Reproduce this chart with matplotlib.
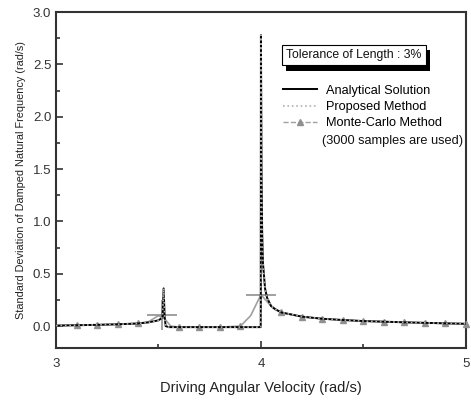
import matplotlib
matplotlib.use("Agg")
import matplotlib.pyplot as plt
import matplotlib.patheffects as pe
from matplotlib.lines import Line2D

plt.rcParams['font.family'] = ['Liberation Sans', 'DejaVu Sans']

# analytical solution
anal_x = [3.0, 3.1, 3.2, 3.3, 3.4, 3.45, 3.5, 3.515, 3.52, 3.525, 3.53, 3.535, 3.55,
          3.6, 3.7, 3.8, 3.9, 3.98, 3.995, 3.999, 4.0, 4.003, 4.006, 4.01, 4.02, 4.03,
          4.05, 4.07, 4.1, 4.2, 4.3, 4.4, 4.5, 4.6, 4.7, 4.8, 4.9, 5.0]
anal_y = [0.005, 0.008, 0.012, 0.017, 0.025, 0.035, 0.055, 0.075, 0.09, 0.36, 0.09, 0.0, -0.01,
          -0.01, -0.01, -0.01, -0.01, -0.01, -0.01, -0.01, 2.78, 1.5, 0.9, 0.6, 0.36, 0.27,
          0.19, 0.16, 0.13, 0.09, 0.07, 0.058, 0.048, 0.042, 0.036, 0.031, 0.026, 0.022]

# proposed method follows the analytical curve
prop_x = list(anal_x)
prop_y = list(anal_y)

# monte-carlo curve
mc_x = [3.0, 3.1, 3.2, 3.3, 3.4, 3.45, 3.5, 3.53, 3.56, 3.6, 3.7, 3.8, 3.9, 3.95,
        4.0, 4.05, 4.1, 4.2, 4.3, 4.4, 4.5, 4.6, 4.7, 4.8, 4.9, 5.0]
mc_y = [0.005, 0.008, 0.012, 0.017, 0.025, 0.04, 0.1, 0.07, 0.0, -0.01, -0.01, -0.01, 0.0, 0.1,
        0.3, 0.19, 0.13, 0.09, 0.07, 0.058, 0.048, 0.042, 0.036, 0.031, 0.026, 0.022]
mc_mark_x = [3.1, 3.2, 3.3, 3.4, 3.6, 3.7, 3.8, 3.9, 4.1, 4.2, 4.3, 4.4, 4.5, 4.6, 4.7, 4.8, 4.9, 5.0]
mc_mark_y = [0.008, 0.012, 0.017, 0.025, -0.01, -0.01, -0.01, 0.0, 0.13, 0.09, 0.07, 0.058,
             0.048, 0.042, 0.036, 0.031, 0.026, 0.022]
# big cross markers at the two resonances
cross_x = [3.515, 4.0]
cross_y = [0.105, 0.3]

fig = plt.figure(figsize=(4.71, 4.01), dpi=100)
ax = fig.add_axes([0.119, 0.132, 0.870, 0.838])

mc_col = '#a0a0a0'
ax.plot(mc_x, mc_y, '-', color=mc_col, lw=1.2, zorder=2)
ax.plot(mc_mark_x, mc_mark_y, '^', color='#909090', ms=5, zorder=3, clip_on=False)
ax.plot(cross_x, cross_y, '+', color='#909090', ms=22, mew=1.2, zorder=3)
ax.plot(anal_x, anal_y, '-', color='black', lw=1.4, zorder=4)
ax.plot(prop_x, prop_y, ':', color='#b0b0b0', lw=1.2, zorder=5)

ax.set_xlim(3, 5)
ax.set_ylim(-0.21, 3.0)
ax.set_xticks([3, 4, 5])
ax.set_xticks([3.5, 4.5], minor=True)
ax.set_yticks([0.0, 0.5, 1.0, 1.5, 2.0, 2.5, 3.0])
ax.set_yticks([0.25, 0.75, 1.25, 1.75, 2.25, 2.75], minor=True)
ax.set_yticklabels(['0.0', '0.5', '1.0', '1.5', '2.0', '2.5', '3.0'])
ax.tick_params(which='both', direction='in', colors='#333333', labelsize=9.5, width=1.2)
ax.tick_params(which='major', length=5)
ax.tick_params(which='minor', length=3)
ax.tick_params(axis='x', pad=7)
for s in ax.spines.values():
    s.set_linewidth(1.5)
    s.set_color('#333333')

ax.set_xlabel('Driving Angular Velocity (rad/s)', fontsize=10.5, color='#222222', labelpad=8)
ax.set_ylabel('Standard Deviation of Damped Natural Frequency (rad/s)', fontsize=7.8,
              color='#222222', labelpad=5)

t = ax.text(0.562, 0.872, 'Tolerance of Length : 3%', transform=ax.transAxes, fontsize=8.8,
            va='center', ha='left', color='#111111',
            bbox=dict(boxstyle='square,pad=0.35', fc='white', ec='black', lw=0.8))
t.get_bbox_patch().set_path_effects([
    pe.SimplePatchShadow(offset=(3, -4), shadow_rgbFace='black', alpha=1.0), pe.Normal()])

handles = [Line2D([], [], color='black', lw=1.4),
           Line2D([], [], color='#b0b0b0', ls=':', lw=1.2),
           Line2D([], [], color='#a0a0a0', ls='--', lw=1.0, marker='^', ms=5,
                  markerfacecolor='#909090', markeredgecolor='#909090')]
labels = ['Analytical Solution', 'Proposed Method', 'Monte-Carlo Method']
ax.legend(handles, labels, loc='upper left', bbox_to_anchor=(0.555, 0.783), frameon=False,
          fontsize=9.2, handlelength=2.6, handletextpad=0.7, labelspacing=0.32,
          borderaxespad=0, borderpad=0)
ax.text(0.648, 0.616, '(3000 samples are used)', transform=ax.transAxes, fontsize=9.2,
        va='center', ha='left', color='#111111', clip_on=False)

fig.savefig('out.png', dpi=100)
